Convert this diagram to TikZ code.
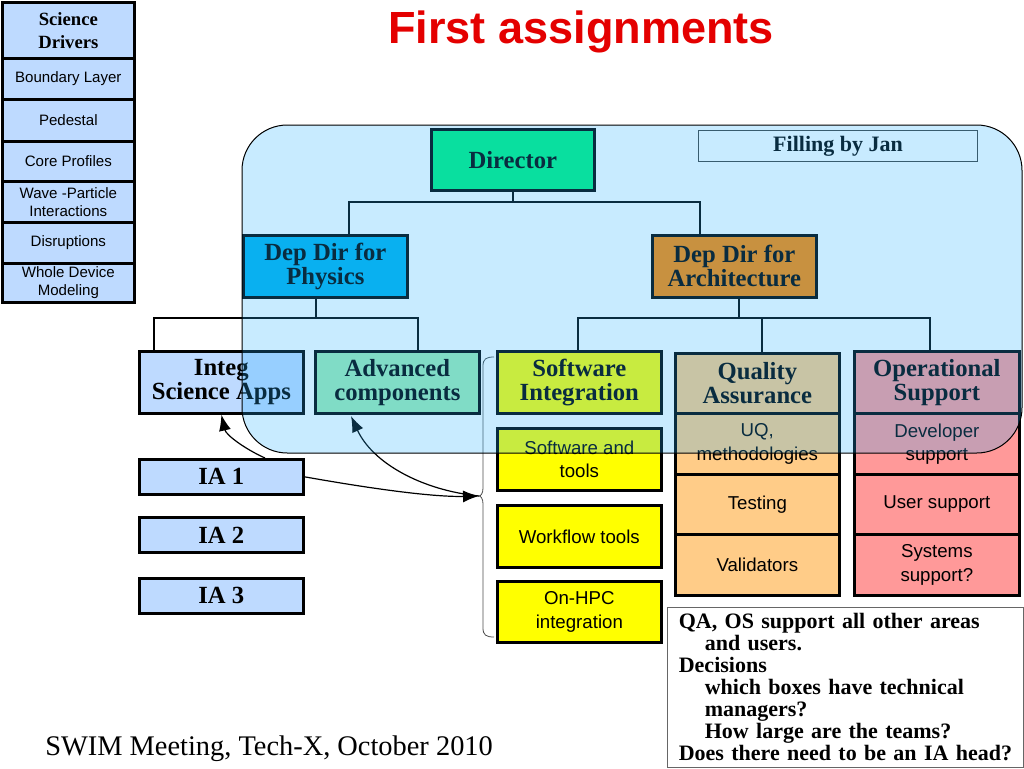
\documentclass[tikz,border=0pt]{standalone}
\usepackage{fontspec}
\setmainfont{Liberation Serif}
\setsansfont{Liberation Sans}
\usetikzlibrary{arrows.meta}
\definecolor{sideblue}{RGB}{190,218,255}
\definecolor{dircol}{RGB}{0,240,128}
\definecolor{phycol}{RGB}{0,176,235}
\definecolor{archcol}{RGB}{255,135,0}
\definecolor{advcol}{RGB}{160,235,180}
\definecolor{swcol}{RGB}{255,255,0}
\definecolor{qacol}{RGB}{255,204,136}
\definecolor{oscol}{RGB}{255,153,153}
\definecolor{ovlcol}{RGB}{36,176,255}
\definecolor{titlered}{RGB}{228,0,0}
\begin{document}
\begin{tikzpicture}[x=0.75pt,y=-0.75pt,
  box/.style={draw=black, line width=2pt, inner sep=0pt, align=center, anchor=north west},
  sz/.style 2 args={minimum width=#1*0.75pt, minimum height=#2*0.75pt},
  hdr/.style={box, font=\fontsize{18.5pt}{18pt}\selectfont\bfseries},
  sub/.style={box, font=\sffamily\fontsize{14pt}{17.5pt}\selectfont},
  side/.style={box, fill=sideblue, sz={132}{#1}, font=\sffamily\fontsize{11.3pt}{13.5pt}\selectfont},
  conn/.style={line width=2pt, black},
  arr/.style={line width=0.9pt, -{Latex[length=12pt,width=9pt]}},
]
\useasboundingbox (0,0) rectangle (1024,768);

% sidebar
\node[side=56, font=\fontsize{14pt}{17pt}\selectfont\bfseries] (sd0) at (1,1) {Science\\Drivers};
\node[side=41] (sd1) at (1,57) {Boundary Layer};
\node[side=42] (sd2) at (1,98) {Pedestal};
\node[side=40] (sd3) at (1,140) {Core Profiles};
\node[side=41] (sd4) at (1,180) {Wave -Particle\\Interactions};
\node[side=41] (sd5) at (1,221) {Disruptions};
\node[side=39] (sd6) at (1,262) {Whole Device\\Modeling};

% title and footer
\node[anchor=base, font=\sffamily\bfseries\fontsize{33.8pt}{36pt}\selectfont, text=titlered, inner sep=0pt] (title) at (581,43) {First assignments};
\node[anchor=base west, font=\fontsize{21.3pt}{24pt}\selectfont, inner sep=0pt] (foot) at (45,755) {SWIM Meeting, Tech-X, October 2010};

% headers
\node[hdr, fill=dircol, sz={163}{61}] (dir) at (430,128) {Director};
\node[draw=black!75, line width=0.75pt, fill=white, sz={279}{31}, anchor=north west, inner sep=0pt, font=\fontsize{16.5pt}{17pt}\selectfont\bfseries] (fbj) at (698,130) {Filling by Jan};
\node[hdr, fill=phycol, sz={164}{62}] (phy) at (242,234) {Dep Dir for\\Physics};
\node[hdr, fill=archcol, sz={164}{62}] (arch) at (651,234) {Dep Dir for\\Architecture};
\node[hdr, fill=sideblue, sz={164}{62}] (isa) at (138,350) {Integ\\Science Apps};
\node[hdr, fill=advcol, sz={164}{62}] (adv) at (314,350) {Advanced\\components};
\node[hdr, fill=swcol, sz={164}{62}] (si) at (496,350) {Software\\Integration};
\node[hdr, fill=qacol, sz={164}{60}] (qa) at (674,352) {Quality\\Assurance};
\node[hdr, fill=oscol, sz={165}{62}] (os) at (853,350) {Operational\\Support};

% sub boxes
\node[sub, fill=swcol, sz={164}{62}] (st1) at (496,427) {Software and\\tools};
\node[sub, fill=swcol, sz={164}{62}] (st2) at (496,504) {Workflow tools};
\node[sub, fill=swcol, sz={164}{61}] (st3) at (496,580) {On-HPC\\integration};
\node[sub, fill=qacol, sz={164}{61}] (qa1) at (674,412) {UQ,\\methodologies};
\node[sub, fill=qacol, sz={164}{60}] (qa2) at (674,473) {Testing};
\node[sub, fill=qacol, sz={164}{61}] (qa3) at (674,533) {Validators};
\node[sub, fill=oscol, sz={165}{61}] (os1) at (853,412) {Developer\\support};
\node[sub, fill=oscol, sz={165}{60}] (os2) at (853,473) {User support};
\node[sub, fill=oscol, sz={165}{61}] (os3) at (853,533) {Systems\\support?};

% IA boxes
\node[hdr, fill=sideblue, sz={164}{35}] (ia1) at (138,458) {IA 1};
\node[hdr, fill=sideblue, sz={164}{35}] (ia2) at (138,516) {IA 2};
\node[hdr, fill=sideblue, sz={164}{35}] (ia3) at (138,577) {IA 3};

% note
\node[draw=black!60, line width=0.75pt, fill=white, anchor=north west, sz={356}{160}, text width=250pt, inner xsep=8.25pt, inner ysep=0pt, align=left, font=\fontsize{16.5pt}{16.5pt}\selectfont\bfseries] (note) at (667,607) {QA, OS support all other areas\\\hspace*{19.5pt}and users.\\Decisions\\\hspace*{19.5pt}which boxes have technical\\\hspace*{19.5pt}managers?\\\hspace*{19.5pt}How large are the teams?\\Does there need to be an IA head?};

% connectors
\coordinate (b1) at (349,202);
\coordinate (b2) at (700,202);
\draw[conn] (dir.south) -- (dir.south |- b1);
\draw[conn] (phy.north -| b1) |- (b2) -- (arch.north -| b2);

\coordinate (p0) at (316,318);
\coordinate (pl) at (154,318);
\coordinate (pr) at (418,318);
\draw[conn] (p0 |- phy.south) -- (p0);
\draw[conn] (isa.north -| pl) -- (pl) -- (pr) -- (adv.north -| pr);

\coordinate (a0) at (739,318);
\coordinate (al) at (578,318);
\coordinate (am) at (762,318);
\coordinate (ar) at (930,318);
\draw[conn] (a0 |- arch.south) -- (a0);
\draw[conn] (si.north -| al) -- (al) -- (ar) -- (os.north -| ar);
\draw[conn] (am) -- (qa.north -| am);

% brace
\coordinate (br) at (479,496);
\draw[line width=0.6pt, black!70] (494,357) .. controls (486,357) and (483,359) .. (483,366) -- (483,488) .. controls (483,493) and (481,496) .. (br) .. controls (481,496) and (483,499) .. (483,504) -- (483,628) .. controls (483,635) and (486,637) .. (494,637);

% arrows
\coordinate (a1s) at (265,458);
\coordinate (a3e) at (351,416);
\draw[arr] (a1s) .. controls (245,449) and (226,435) .. (isa.south);
\draw[arr] (ia1.east) .. controls (390,492) and (440,497) .. (br);
\draw[arr] (br) .. controls (420,490) and (372,462) .. (a3e);

% translucent overlay
\draw[draw=black, line width=0.75pt, fill=ovlcol, fill opacity=0.25, rounded corners=34pt] (242,125) rectangle (1022,453);
\end{tikzpicture}
\end{document}
